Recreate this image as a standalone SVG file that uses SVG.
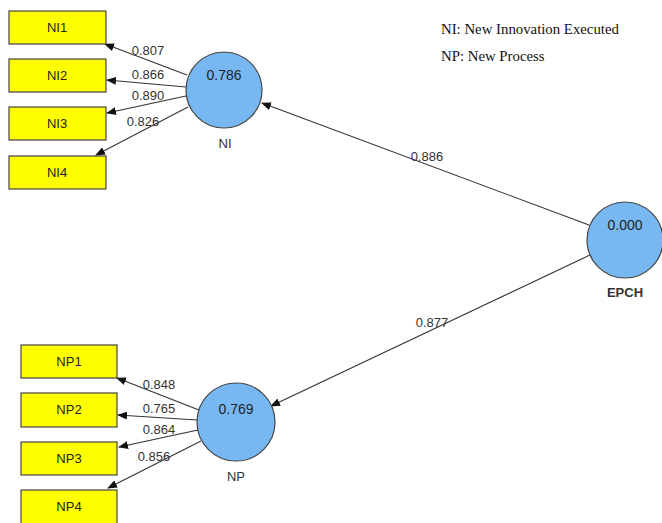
<svg xmlns="http://www.w3.org/2000/svg" width="662" height="523" viewBox="0 0 662 523">
<defs>
<marker id="ah" markerWidth="10" markerHeight="8" refX="9" refY="4" orient="auto" markerUnits="userSpaceOnUse">
<path d="M0,0 L10,4 L0,8 z" fill="#111"/>
</marker>
<style>
.box{fill:#ffff00;stroke:#444;stroke-width:1.2}
.lv{fill:#78b8f2;stroke:#444;stroke-width:1.2}
.bt{font-family:"Liberation Sans",Arial,sans-serif;font-size:13px;fill:#222;text-anchor:middle}
.ct{font-family:"Liberation Sans",Arial,sans-serif;font-size:14px;fill:#222;text-anchor:middle}
.lbl{font-family:"Liberation Sans",Arial,sans-serif;font-size:13px;fill:#333;text-anchor:middle}
.nm{font-family:"Liberation Sans",Arial,sans-serif;font-size:13px;fill:#333;text-anchor:middle}
.edge{stroke:#333;stroke-width:1.1;fill:none;marker-end:url(#ah)}
.leg{font-family:"Liberation Serif","Times New Roman",serif;font-size:14.8px;fill:#111}
</style>
</defs>
<rect width="662" height="523" fill="#fff"/>
<g id="legend">
<text class="leg" x="441" y="34">NI: New Innovation Executed</text>
<text class="leg" x="441" y="61">NP: New Process</text>
</g>
<g id="connectors">
<line class="edge" x1="187" y1="75" x2="105" y2="44"/>
<line class="edge" x1="186" y1="87" x2="107" y2="80"/>
<line class="edge" x1="186" y1="96" x2="107" y2="113"/>
<line class="edge" x1="188" y1="107" x2="96" y2="155"/>
<line class="edge" x1="589" y1="225" x2="262" y2="103"/>
<line class="edge" x1="590" y1="255" x2="271" y2="406"/>
<line class="edge" x1="199" y1="410" x2="117" y2="378"/>
<line class="edge" x1="197" y1="420" x2="118" y2="415"/>
<line class="edge" x1="198" y1="430" x2="119" y2="447"/>
<line class="edge" x1="201" y1="441" x2="108" y2="488"/>
<text class="lbl" x="148" y="55">0.807</text>
<text class="lbl" x="148" y="79">0.866</text>
<text class="lbl" x="148" y="100">0.890</text>
<text class="lbl" x="143" y="126">0.826</text>
<text class="lbl" x="427" y="161">0.886</text>
<text class="lbl" x="432" y="327">0.877</text>
<text class="lbl" x="159" y="389">0.848</text>
<text class="lbl" x="159" y="413">0.765</text>
<text class="lbl" x="159" y="434">0.864</text>
<text class="lbl" x="154" y="461">0.856</text>
</g>
<g id="NI1"><rect class="box" x="9" y="11" width="97" height="33"/><text class="bt" x="57" y="32">NI1</text></g>
<g id="NI2"><rect class="box" x="9" y="59" width="97" height="33"/><text class="bt" x="57" y="80">NI2</text></g>
<g id="NI3"><rect class="box" x="9" y="107" width="97" height="33"/><text class="bt" x="57" y="128">NI3</text></g>
<g id="NI4"><rect class="box" x="9" y="156" width="97" height="33"/><text class="bt" x="57" y="177">NI4</text></g>
<g id="NI"><circle class="lv" cx="224" cy="90" r="38"/><text class="ct" x="224" y="80">0.786</text><text class="nm" x="225" y="148">NI</text></g>
<g id="EPCH"><circle class="lv" cx="625" cy="240" r="38"/><text class="ct" x="625" y="230">0.000</text><text class="nm" x="625" y="297" style="font-weight:bold">EPCH</text></g>
<g id="NP1"><rect class="box" x="21" y="345" width="96" height="33"/><text class="bt" x="69" y="366">NP1</text></g>
<g id="NP2"><rect class="box" x="21" y="393" width="96" height="34"/><text class="bt" x="69" y="414">NP2</text></g>
<g id="NP3"><rect class="box" x="21" y="442" width="96" height="33"/><text class="bt" x="69" y="463">NP3</text></g>
<g id="NP4"><rect class="box" x="21" y="490" width="96" height="40"/><text class="bt" x="69" y="511">NP4</text></g>
<g id="NP"><circle class="lv" cx="236" cy="422" r="39"/><text class="ct" x="236" y="414">0.769</text><text class="nm" x="236" y="481">NP</text></g>
</svg>
